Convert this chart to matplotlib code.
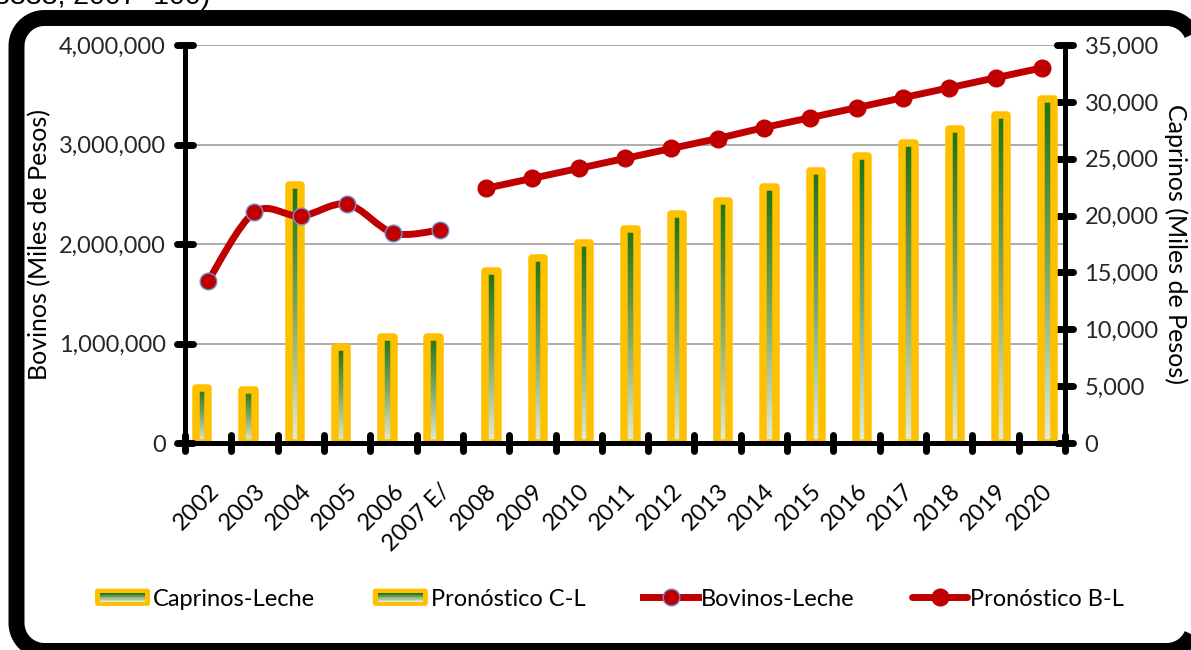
import numpy as np
import matplotlib
matplotlib.use('Agg')
import matplotlib.pyplot as plt
import matplotlib.transforms as mtransforms
from matplotlib.path import Path
from matplotlib.patches import PathPatch, FancyBboxPatch, Rectangle, Polygon
from matplotlib.lines import Line2D
from matplotlib.markers import MarkerStyle
from matplotlib.ticker import FuncFormatter, MultipleLocator
from matplotlib.legend_handler import HandlerBase
from matplotlib.container import BarContainer
from matplotlib.colors import LinearSegmentedColormap

plt.rcParams['font.family'] = ['Lato', 'DejaVu Sans']

# data
years = ['2002', '2003', '2004', '2005', '2006', '2007 E/', '2008', '2009', '2010',
         '2011', '2012', '2013', '2014', '2015', '2016', '2017', '2018', '2019', '2020']
caprinos_leche = [4800, 4700, 22700, 8400, 9350, 9350]
pronostico_cl = [15100, 16300, 17550, 18850, 20100, 21300, 22550, 23950,
                 25200, 26400, 27650, 28850, 30250]
bovinos_leche = [1630000, 2320000, 2280000, 2400000, 2110000, 2140000]
pronostico_bl = [2560000, 2660000, 2760000, 2860000, 2960000, 3060000, 3170000,
                 3270000, 3370000, 3470000, 3570000, 3670000, 3770000]

GOLD = '#ffc000'
RED = '#c00000'
GREEN_TOP = '#1c7313'
GREEN_MID = '#7ea865'
GREEN_BOT = '#e4edda'
cmap = LinearSegmentedColormap.from_list('grn', [GREEN_BOT, GREEN_MID, GREEN_TOP])

n_hist = len(caprinos_leche)
x = np.arange(len(years))
x_hist = x[:n_hist]
x_fore = x[n_hist:]


def smooth_path(xs, ys):
    # excel style smoothed line (catmull-rom as cubic beziers)
    pts = np.column_stack([xs, ys]).astype(float)
    p = np.vstack([pts[0], pts, pts[-1]])
    verts = [pts[0]]
    codes = [Path.MOVETO]
    for i in range(1, len(p) - 2):
        c1 = p[i] + (p[i + 1] - p[i - 1]) / 6
        c2 = p[i + 1] - (p[i + 2] - p[i]) / 6
        verts += [c1, c2, p[i + 1]]
        codes += [Path.CURVE4] * 3
    return Path(verts, codes)


class GradientHandler(HandlerBase):
    def create_artists(self, legend, orig_handle, xdescent, ydescent,
                       width, height, fontsize, trans):
        x0, y0 = -xdescent, -ydescent
        out = [FancyBboxPatch((x0, y0), width, height,
                              boxstyle='round,pad=0,rounding_size=2',
                              fc=GOLD, ec='none', transform=trans)]
        ix, iy = 3.6, 2.9
        nb = 8
        bh = (height - 2 * iy) / nb
        for k in range(nb):
            c = cmap(k / (nb - 1))
            out.append(Rectangle((x0 + ix, y0 + iy + k * bh), width - 2 * ix, bh + 0.05,
                                 fc=c, ec='none', transform=trans))
        return out


fig = plt.figure(figsize=(11.91, 6.5), dpi=100)
ax = fig.add_axes([185 / 1191, 1 - 443 / 650, 880 / 1191, 398 / 650])
ax2 = ax.twinx()
ax.set_zorder(ax2.get_zorder() + 1)
ax.patch.set_visible(False)

# bars (right axis)
bw = 0.27
b1 = ax2.bar(x_hist - 0.13, caprinos_leche, width=bw, facecolor='none', edgecolor=GOLD,
             linewidth=5.4, joinstyle='round', zorder=3)
b2 = ax2.bar(x_fore + 0.12, pronostico_cl, width=bw, facecolor='none', edgecolor=GOLD,
             linewidth=5.4, joinstyle='round', zorder=3)
grad = np.linspace(0, 1, 256).reshape(-1, 1)
for r in list(b1) + list(b2):
    bx, by = r.get_x(), r.get_y()
    ax2.imshow(grad, extent=(bx, bx + r.get_width(), by, by + r.get_height()),
               origin='lower', cmap=cmap, aspect='auto', zorder=2, interpolation='bilinear')

ax.set_xlim(-0.5, len(years) - 0.5)
ax2.set_xlim(-0.5, len(years) - 0.5)
ax.set_ylim(0, 4000000)
ax2.set_ylim(0, 35000)
ax.yaxis.set_major_locator(MultipleLocator(1000000))
ax2.yaxis.set_major_locator(MultipleLocator(5000))

# gridlines from the left scale, drawn behind the bars
gtrans = mtransforms.blended_transform_factory(ax2.transAxes, ax.transData)
for v in ax.get_yticks()[1:]:
    ax2.add_line(Line2D([0, 1], [v, v], transform=gtrans, color='#a6a6a6', lw=1.3, zorder=1))

# lines (left axis)
ax.add_patch(PathPatch(smooth_path(x_hist, bovinos_leche), facecolor='none', edgecolor=RED,
                       lw=5, capstyle='round', zorder=3))
ax.plot(x_hist, bovinos_leche, 'o', ms=12, mfc=RED, mec='#7090cc', mew=1, zorder=4)
l2, = ax.plot(x_fore, pronostico_bl, color=RED, lw=5, marker='o', ms=12, mec=RED,
              solid_capstyle='round', zorder=4)
l1 = Line2D([], [], color=RED, lw=5, marker='o', ms=12, mfc=RED, mec='#7090cc', mew=1)

fmt = FuncFormatter(lambda v, p: f'{v:,.0f}')
ax.yaxis.set_major_formatter(fmt)
ax2.yaxis.set_major_formatter(fmt)

for s in ['top', 'right']:
    ax.spines[s].set_visible(False)
for s in ['top', 'left', 'bottom']:
    ax2.spines[s].set_visible(False)
for s in ['left', 'bottom']:
    ax.spines[s].set_linewidth(3.6)
ax2.spines['right'].set_linewidth(3.6)

ax.set_xticks(np.arange(-0.5, len(years), 1))
ax.set_xticklabels([])
ax.set_xticks(x, minor=True)
ax.set_xticklabels(years, minor=True, rotation=45, ha='right', rotation_mode='anchor')
ax.tick_params(axis='x', which='major', direction='inout', length=12, width=5)
ax.tick_params(axis='x', which='minor', length=0, labelsize=17, pad=27, colors='#000000')
ax.tick_params(axis='y', direction='inout', length=12, width=5, labelsize=17, pad=8,
               labelcolor='#262626')
ax2.tick_params(axis='y', direction='inout', length=12, width=5, labelsize=17, pad=8,
                labelcolor='#262626')

ax.set_ylabel('Bovinos (Miles de Pesos)', fontsize=18)
ax.yaxis.set_label_coords(-0.152, 0.5)
ax2.set_ylabel('Caprinos (Miles de Pesos)', fontsize=18, rotation=270, va='bottom')
ax2.yaxis.set_label_coords(1.112, 0.5)

# round tick caps
for axis_ in [ax.xaxis, ax.yaxis, ax2.yaxis]:
    mk = '|' if axis_ is ax.xaxis else '_'
    for t in axis_.get_major_ticks(len(axis_.get_majorticklocs())):
        t.tick1line.set_marker(MarkerStyle(mk, capstyle='round'))
        t.tick2line.set_marker(MarkerStyle(mk, capstyle='round'))

fig.legend([b1, b2, l1, l2],
           ['Caprinos-Leche', 'Pronóstico C-L', 'Bovinos-Leche', 'Pronóstico B-L'],
           handler_map={BarContainer: GradientHandler()},
           loc='center left', bbox_to_anchor=(95 / 1191, 1 - 599 / 650), ncol=4,
           frameon=False, fontsize=17, handlelength=2.33, handleheight=0.75,
           handletextpad=0.12, columnspacing=2.45, borderpad=0, borderaxespad=0)

# outer rounded frame (inches)
fx0, fy0, fx1, fy1, rad = 0.165, -0.01, 11.945, 6.32, 0.28
corner = []
for cx, cy, a0 in [(fx1 - rad, fy1 - rad, 0), (fx0 + rad, fy1 - rad, 90),
                   (fx0 + rad, fy0 + rad, 180), (fx1 - rad, fy0 + rad, 270)]:
    t = np.radians(np.linspace(a0, a0 + 90, 24))
    corner += list(zip(cx + rad * np.cos(t), cy + rad * np.sin(t)))
fig.add_artist(Polygon(corner, closed=True, fill=False, ec='black', lw=11.5,
                       joinstyle='round', transform=fig.dpi_scale_trans))
fig.text(-6 / 1191, 1 - 4.5 / 650, '8888, 2007=100)', fontsize=20.5, family='Liberation Sans',
         va='baseline', ha='left')

fig.savefig('out.png', dpi=100)
